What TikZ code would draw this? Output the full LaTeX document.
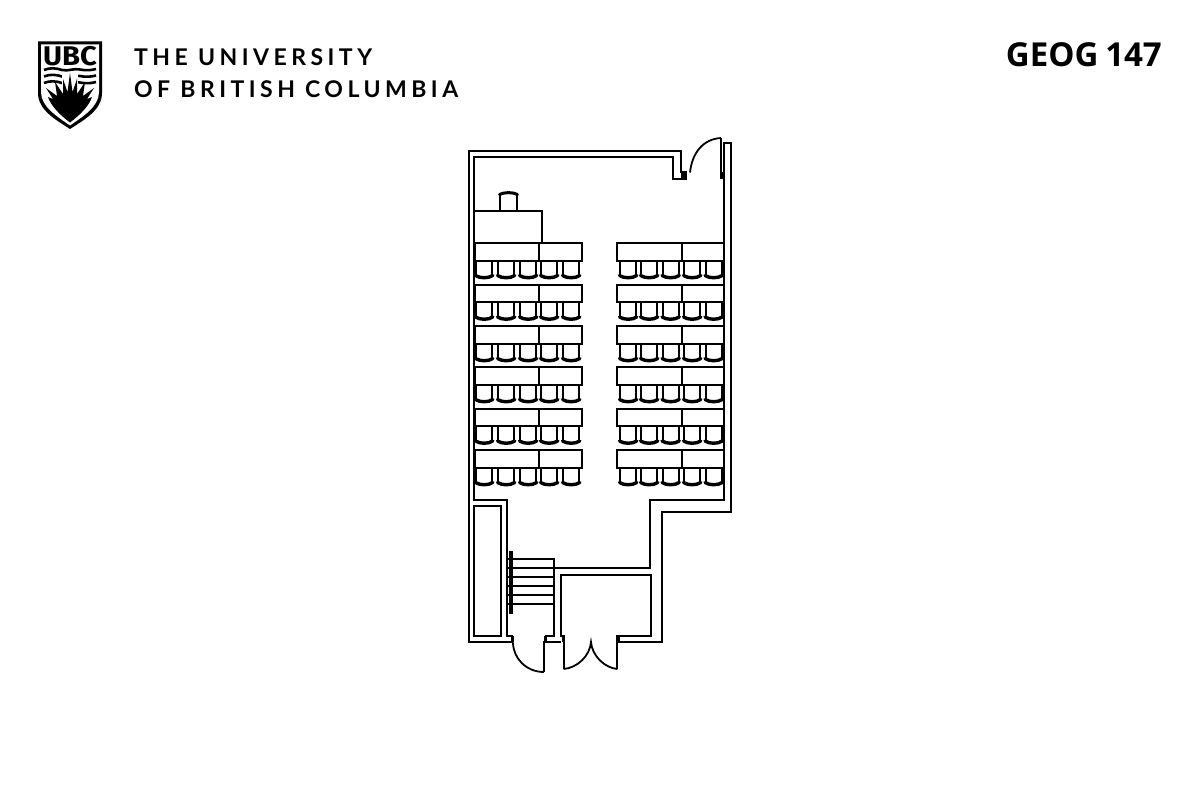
\documentclass[tikz,border=0pt]{standalone}
\usepackage{fontspec}
\setmainfont{Lato}
\newfontfamily\ubcwide[LetterSpace=19.5]{Lato Bold}
\newfontfamily\ubcbold[WordSpace=0.8]{Open Sans Bold}
\newfontfamily\ubclogo{Fira Sans Bold}
\tikzset{
  wall/.style={line width=2pt,line join=miter,draw=black},
  jamb/.style={line width=3pt,draw=black},
  chairback/.style={line width=3.4pt,draw=black,line cap=round},
  wordmark/.style={anchor=base west,inner sep=0pt,text=black,font=\fontsize{23}{27}\selectfont\ubcwide},
}
\newcommand{\seat}[2]{%
  \draw[wall] (#1,#2) -- (#1,#2+15);
  \draw[wall] (#1+16.3,#2) -- (#1+16.3,#2+15);
  \draw[chairback] (#1-.5,#2+15) .. controls (#1+4,#2+18) and (#1+12.3,#2+18) .. (#1+16.8,#2+15);
}
\newcommand{\deskrow}[4]{% left, top, divider, right
  \draw[wall] (#1,#2) rectangle (#4,#2+17.5);
  \draw[wall] (#3,#2) -- (#3,#2+17.5);
}
\begin{document}
\begin{tikzpicture}[x=1pt,y=-1pt]
\useasboundingbox (0,0) rectangle (1200,800);
\fill[white] (0,0) rectangle (1200,800);
% logo
\fill[black] (38,41.5) -- (102,41.5) -- (102,93) .. controls (102,110) and (84,120) .. (70,129) .. controls (56,120) and (38,110) .. (38,93) -- cycle;
\fill[white] (41,44.5) -- (99,44.5) -- (99,92) .. controls (99,107) and (82,117) .. (70,125.5) .. controls (58,117) and (41,107) .. (41,92) -- cycle;
\node[inner sep=0pt,anchor=base,xscale=1.08] (ubc) at (70,66) {\fontsize{27}{30}\selectfont\ubclogo UBC};
\foreach \yy/\ww in {70/2.6,76.5/2.6,83/2.6}{
  \draw[line width=\ww pt] (44,\yy) .. controls (50,\yy-2.5) and (56,\yy-2) .. (62,\yy) .. controls (68,\yy+1.5) and (74,\yy-2) .. (80,\yy-.5) .. controls (86,\yy+1) and (92,\yy) .. (96,\yy-1);
}
\fill[white] (62,73) rectangle (78,90);
\fill[white] (53,85) -- (87,85) -- (87,95) -- (53,95) -- cycle;
\fill[black] (48,97) -- (53,99) -- (46,88) -- (57,96) -- (55,82) -- (63,94) -- (63,79) -- (67.5,92) -- (70,73) -- (72.5,92) -- (77,79) -- (77,94) -- (85,82) -- (83,96) -- (94,88) -- (87,99) -- (92,97) .. controls (89,106) and (80,115) .. (70,122.5) .. controls (60,115) and (51,106) .. (48,97) -- cycle;
% wordmark
\node[wordmark] (line1) at (134,66) {THE UNIVERSITY};
\node[wordmark] (line2) at (134,98) {OF BRITISH COLUMBIA};
\node[anchor=base east,inner sep=0pt,font=\fontsize{33}{36}\selectfont\ubcbold] (room) at (1162,66.5) {GEOG 147};
% shell
\draw[wall] (468.7,151) -- (680.7,151) -- (680.7,172) -- (685.7,172) -- (685.7,178.7) -- (673,178.7) -- (673,157) -- (474,157) -- (474,500) -- (507,500) -- (507,636) -- (513,636);
\draw[wall] (468.7,150) -- (468.7,642.3) -- (513,642.3);
\draw[line width=2.6pt] (547,150.8) -- (621,150.8);
\fill (681,172) rectangle (686,178.7);
% back door
\draw[wall] (721,138) -- (721,178.7);
\draw[line width=1.8pt] (721,138) .. controls (703,139) and (692,153) .. (690,172.5);
\draw[jamb] (721.5,172) -- (721.5,178.7);
% right wall
\draw[wall] (724.3,179) -- (724.3,143.3) -- (730.8,143.3) -- (730.8,512) -- (661.7,512) -- (661.7,642.3) -- (618,642.3);
\draw[wall] (724.3,179) -- (724.3,500) -- (650,500) -- (650,568.2) -- (554,568.2);
% front double doors and vestibule
\draw[wall] (617.4,669) -- (617.4,636) -- (651,636) -- (651,575) -- (560.7,575) -- (560.7,636) -- (563.5,636) -- (563.5,669);
\draw[line width=1.8pt] (563.5,669) .. controls (577,668) and (590,656) .. (591,642) .. controls (592,656) and (605,668) .. (617.4,669);
\draw[jamb] (563.5,636) -- (563.5,642.3);
\draw[jamb] (618,636) -- (618,642.3);
% left door
\draw[wall] (543.5,672) -- (543.5,642.3) -- (560.7,642.3);
\draw[line width=1.8pt] (513,642.3) .. controls (513,658) and (526,672) .. (544,672);
\draw[jamb] (512.5,636) -- (512.5,642.3);
\draw[jamb] (545.5,636) -- (545.5,642.3);
% storage and stairs
\draw[wall] (474,506) rectangle (500.7,636);
\draw[wall] (545,636) -- (554,636) -- (554,559.3) -- (507,559.3);
\foreach \yy in {568.2,577.2,586.2,595.2,604.2}{\draw[line width=2pt] (507,\yy) -- (554,\yy);}
\fill (509,550.5) rectangle (512.5,613.5);
% lectern
\draw[wall] (474,210.7) rectangle (542.3,243);
\draw[wall] (500,210.7) -- (500,195) (516.7,210.7) -- (516.7,195);
\draw[line width=3pt,line cap=round] (499.5,194.5) .. controls (504,192) and (513,192) .. (517.5,194.5);
% seating
\foreach \yy in {243,284.5,326,367,408.5,450}{
  \deskrow{475}{\yy}{538.8}{581.7}
  \deskrow{617}{\yy}{681.7}{724}
  \foreach \xx in {476,498,520,541,563}{\seat{\xx}{\yy+17.5}}
  \foreach \xx in {620,641,662.5,684,705.5}{\seat{\xx}{\yy+17.5}}
}
\end{tikzpicture}
\end{document}
